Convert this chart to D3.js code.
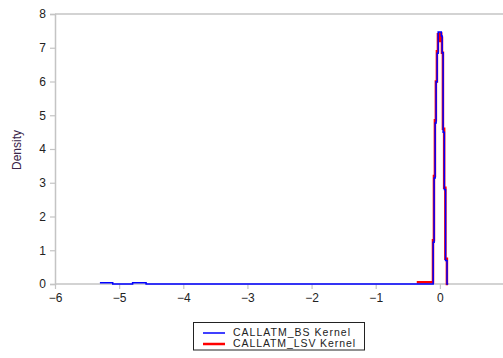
<!DOCTYPE html>
<html><head><meta charset="utf-8">
<script src="https://cdn.jsdelivr.net/npm/d3@7"></script>
<style>body{margin:0;background:#fff}svg{display:block}</style>
</head><body>
<svg id="c" width="503" height="358"></svg>
<script>
const xTicks = [-6,-5,-4,-3,-2,-1,0];
const yTicks = [0,1,2,3,4,5,6,7,8];
const seriesNames = ["CALLATM_BS Kernel","CALLATM_LSV Kernel"];
const bsX = [-5.30,-5.10,-4.79,-4.58,-0.104,-0.089,-0.073,-0.058,-0.042,-0.026,0.023,0.036,0.051,0.070,0.089,0.112,0.130];
const bsY = [0.04,0.0,0.04,0.0,1.24,3.14,4.77,5.99,6.84,7.47,7.35,6.85,4.50,2.80,0.70,0.0,0.0];
const lsvX = [-0.36,-0.107,-0.092,-0.077,-0.062,-0.046,-0.030,-0.006,0.006,0.021,0.033,0.048,0.067,0.086,0.110,0.128];
const lsvY = [0.05,1.30,3.20,4.85,6.00,6.90,7.40,7.20,7.42,7.30,6.85,4.60,2.85,0.75,0.0,0.0];

const svg = d3.select("#c");
const x = d3.scaleLinear().domain([-6,1]).range([55,504]);
const y = d3.scaleLinear().domain([0,8]).range([284,14]);
const axisCol = "#c4c4c4", txtCol = "#222";
const font = "Liberation Sans, Arial, sans-serif";

svg.append("line").attr("x1",x(-6)).attr("x2",503).attr("y1",y(8)).attr("y2",y(8))
  .attr("stroke",axisCol).attr("stroke-width",1.5);

const gx = svg.append("g").attr("transform",`translate(0,${y(0)})`)
  .call(d3.axisBottom(x).tickValues(xTicks).tickSize(5).tickPadding(4).tickFormat(d3.format("d")));
const gy = svg.append("g").attr("transform",`translate(${x(-6)},0)`)
  .call(d3.axisLeft(y).tickValues(yTicks).tickSize(5).tickPadding(4).tickFormat(d3.format("d")));
gx.select(".domain").attr("d",`M${x(-6)},0H503`);
[gx,gy].forEach(g=>{
  g.select(".domain").attr("stroke",axisCol).attr("stroke-width",1.5);
  g.selectAll(".tick line").attr("stroke",axisCol).attr("stroke-width",1.2);
  g.selectAll("text").attr("fill",txtCol).attr("font-family",font).attr("font-size",12);
});

svg.append("text").attr("transform",`translate(21,150) rotate(-90)`)
  .attr("text-anchor","middle").attr("font-family",font).attr("font-size",12)
  .attr("fill","#3a2448").text("Density");

const line = d3.line().x(d=>x(d[0])).y(d=>y(d[1])).curve(d3.curveStepAfter);
const bs = bsX.map((v,i)=>[v,bsY[i]]);
const lsv = lsvX.map((v,i)=>[v,lsvY[i]]);
svg.append("path").datum(lsv).attr("d",line).attr("fill","none")
  .attr("stroke","#ff0000").attr("stroke-width",2.5);
svg.append("path").datum(bs).attr("d",line).attr("fill","none")
  .attr("stroke","#0000ff").attr("stroke-width",1.5);

const lg = svg.append("g");
lg.append("rect").attr("x",193.5).attr("y",322.5).attr("width",171).attr("height",27.5)
  .attr("fill","#fff").attr("stroke","#222").attr("stroke-width",1);
const cols = ["#0000ff","#ff0000"], ws = [1.5,2.5], lens = [117,122];
seriesNames.forEach((n,i)=>{
  const yy = 333 + i*11;
  lg.append("line").attr("x1",203).attr("x2",225).attr("y1",yy).attr("y2",yy)
    .attr("stroke",cols[i]).attr("stroke-width",ws[i]);
  lg.append("text").attr("x",233).attr("y",yy+3).attr("font-family",font)
    .attr("font-size",10.5).attr("fill",txtCol)
    .attr("textLength",lens[i]).attr("lengthAdjust","spacing").text(n);
});
</script>
</body></html>
